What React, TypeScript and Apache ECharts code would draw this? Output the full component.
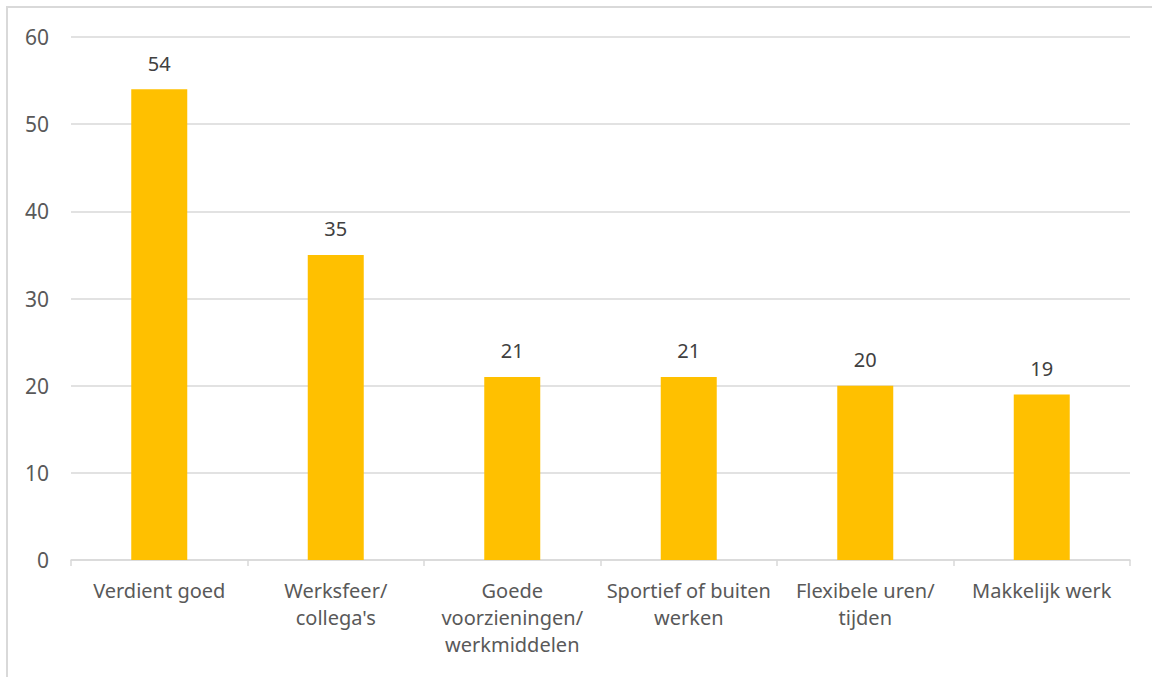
import React, { useEffect, useRef } from "react";
import * as echarts from "echarts";

const categories = [
  "Verdient goed",
  "Werksfeer/\ncollega's",
  "Goede\nvoorzieningen/\nwerkmiddelen",
  "Sportief of buiten\nwerken",
  "Flexibele uren/\ntijden",
  "Makkelijk werk",
];
const values = [54, 35, 21, 21, 20, 19];
const yTicks = { min: 0, max: 60, interval: 10 };

const FONT = "'Noto Sans', 'Open Sans', sans-serif";

export default function App() {
  const ref = useRef<HTMLDivElement>(null);

  useEffect(() => {
    document.body.style.margin = "0";
    if (!ref.current) return;
    const chart = echarts.init(ref.current, null, { renderer: "svg" });
    chart.setOption({
      animation: false,
      backgroundColor: "#ffffff",
      textStyle: { fontFamily: FONT },
      graphic: [
        {
          type: "polyline",
          shape: { points: [[7, 677], [7, 7], [1152, 7]] },
          style: { fill: "none", stroke: "#d9d9d9", lineWidth: 2 },
          silent: true,
          z: 100,
        },
      ],
      grid: { left: 71, right: 22, top: 37, bottom: 117 },
      xAxis: {
        type: "category",
        data: categories,
        axisLine: { lineStyle: { color: "#d9d9d9", width: 1.5 } },
        axisTick: { show: true, length: 6, lineStyle: { color: "#d9d9d9", width: 1.5 } },
        axisLabel: {
          color: "#595959",
          fontSize: 20,
          fontFamily: FONT,
          lineHeight: 27,
          margin: 17,
          interval: 0,
        },
      },
      yAxis: {
        type: "value",
        min: yTicks.min,
        max: yTicks.max,
        interval: yTicks.interval,
        axisLine: { show: false },
        axisTick: { show: false },
        splitLine: { lineStyle: { color: "#d9d9d9", width: 1.5 } },
        axisLabel: { color: "#595959", fontSize: 21, fontFamily: FONT, margin: 22 },
      },
      series: [
        {
          type: "bar",
          data: values,
          barWidth: 56,
          itemStyle: { color: "#ffc000" },
          label: {
            show: true,
            position: "top",
            distance: 16,
            color: "#404040",
            fontSize: 20,
            fontFamily: FONT,
          },
        },
      ],
    });
    return () => chart.dispose();
  }, []);

  return <div ref={ref} style={{ width: 1152, height: 677 }} />;
}
